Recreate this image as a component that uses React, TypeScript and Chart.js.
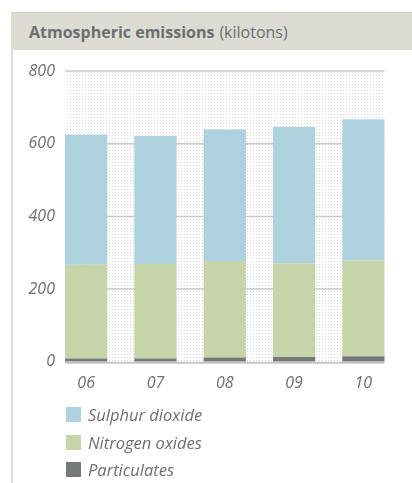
import React, { useEffect, useRef } from "react";
import { Chart, registerables } from "chart.js";

Chart.register(...registerables);

const years = ["06", "07", "08", "09", "10"];
const sulphurDioxide = [358, 352, 362, 375, 388];
const nitrogenOxides = [258, 260, 265, 258, 264];
const particulates = [9, 9, 12, 13, 15];
const yTickValues = [0, 200, 400, 600, 800];

const seriesNames = ["Sulphur dioxide", "Nitrogen oxides", "Particulates"];
const seriesColors = ["#aed1e0", "#c7d4aa", "#77787b"];

const FONT = "'Open Sans', 'Noto Sans', sans-serif";
const TEXT = "#6d6e71";

function makePattern(): CanvasPattern | string {
  const c = document.createElement("canvas");
  c.width = 3;
  c.height = 3;
  const g = c.getContext("2d");
  if (!g) return "#f4f4f4";
  g.fillStyle = "#ffffff";
  g.fillRect(0, 0, 3, 3);
  g.fillStyle = "#d6d6d6";
  g.fillRect(1, 1, 1, 1);
  const p = g.createPattern(c, "repeat");
  return p || "#f4f4f4";
}

function barExtent(chart: any) {
  const meta = chart.getDatasetMeta(0);
  if (!meta || !meta.data.length) return null;
  const first = meta.data[0];
  const last = meta.data[meta.data.length - 1];
  return { left: first.x - first.width / 2, right: last.x + last.width / 2 };
}

const backgroundPlugin = {
  id: "dotBackground",
  beforeDatasetsDraw(chart: any) {
    const ext = barExtent(chart);
    if (!ext) return;
    const { left, right } = ext;
    const { top, bottom } = chart.chartArea;
    const ctx = chart.ctx;
    ctx.save();
    ctx.fillStyle = makePattern();
    ctx.fillRect(left, top, right - left, bottom - top);
    const y = chart.scales.y;
    ctx.strokeStyle = "#c9c9c9";
    ctx.lineWidth = 1.5;
    yTickValues.forEach((v) => {
      if (v === 0) return;
      const py = y.getPixelForValue(v);
      ctx.beginPath();
      ctx.moveTo(left, py);
      ctx.lineTo(right, py);
      ctx.stroke();
    });
    ctx.restore();
  },
  afterDatasetsDraw(chart: any) {
    const ext = barExtent(chart);
    if (!ext) return;
    const { left, right } = ext;
    const py = chart.scales.y.getPixelForValue(0);
    const ctx = chart.ctx;
    ctx.save();
    ctx.strokeStyle = "#c4c4c4";
    ctx.lineWidth = 2;
    ctx.beginPath();
    ctx.moveTo(left, py + 1);
    ctx.lineTo(right, py + 1);
    ctx.stroke();
    ctx.restore();
  },
};

export default function App() {
  const canvasRef = useRef<HTMLCanvasElement | null>(null);

  useEffect(() => {
    if (!canvasRef.current) return;
    const chart = new Chart(canvasRef.current, {
      type: "bar",
      data: {
        labels: years,
        datasets: [
          {
            label: seriesNames[2],
            data: particulates,
            backgroundColor: seriesColors[2],
            stack: "s",
          },
          {
            label: seriesNames[1],
            data: nitrogenOxides,
            backgroundColor: seriesColors[1],
            stack: "s",
          },
          {
            label: seriesNames[0],
            data: sulphurDioxide,
            backgroundColor: seriesColors[0],
            stack: "s",
          },
        ],
      },
      options: {
        animation: false,
        responsive: false,
        maintainAspectRatio: false,
        datasets: {
          bar: {
            categoryPercentage: 1,
            barPercentage: 0.61,
          },
        },
        layout: {
          padding: { top: 21, right: 14, bottom: 6, left: 0 },
        },
        plugins: {
          legend: { display: false },
          tooltip: { enabled: false },
        },
        scales: {
          x: {
            stacked: true,
            grid: { display: false, drawTicks: false },
            border: { display: false },
            ticks: {
              color: TEXT,
              padding: 12,
              font: { family: FONT, size: 16, style: "italic" },
            },
          },
          y: {
            stacked: true,
            min: 0,
            max: 800,
            afterFit(scale: any) {
              scale.width = 51.5;
            },
            afterBuildTicks(scale: any) {
              scale.ticks = yTickValues.map((v) => ({ value: v }));
            },
            grid: { display: false, drawTicks: false },
            border: { display: false },
            ticks: {
              color: TEXT,
              mirror: true,
              crossAlign: "far",
              padding: -23,
              font: { family: FONT, size: 16, style: "italic" },
            },
          },
        },
      },
      plugins: [backgroundPlugin],
    });
    return () => chart.destroy();
  }, []);

  return (
    <div
      style={{
        position: "fixed",
        left: 0,
        top: 0,
        width: 412,
        height: 483,
        background: "#ffffff",
        overflow: "hidden",
        fontFamily: FONT,
      }}
    >
      <div
        style={{
          position: "absolute",
          left: 11,
          top: 12,
          width: 2,
          height: 471,
          background: "#dcdcd4",
        }}
      />
      <div
        style={{
          position: "absolute",
          left: 12,
          top: 12,
          width: 400,
          height: 38,
          background: "#dcdcd4",
          borderTop: "1px solid #d0d0c7",
          boxSizing: "border-box",
          display: "flex",
          alignItems: "center",
          paddingLeft: 17,
          color: TEXT,
          fontSize: 16,
          whiteSpace: "nowrap",
        }}
      >
        <span style={{ fontWeight: 700 }}>Atmospheric emissions</span>
        <span style={{ marginLeft: 5 }}>(kilotons)</span>
      </div>
      <canvas
        ref={canvasRef}
        width={412}
        height={361}
        style={{
          position: "absolute",
          left: 0,
          top: 50,
          width: 412,
          height: 361,
        }}
      />
      {seriesNames.map((name, i) => (
        <div
          key={name}
          style={{
            position: "absolute",
            left: 66,
            top: 405 + i * 27.5,
            height: 19,
            display: "flex",
            alignItems: "center",
            color: TEXT,
            fontStyle: "italic",
            fontSize: 16.5,
            whiteSpace: "nowrap",
          }}
        >
          <span
            style={{
              display: "inline-block",
              width: 15,
              height: 15,
              background: seriesColors[i],
              marginRight: 7,
            }}
          />
          <span>{name}</span>
        </div>
      ))}
    </div>
  );
}
